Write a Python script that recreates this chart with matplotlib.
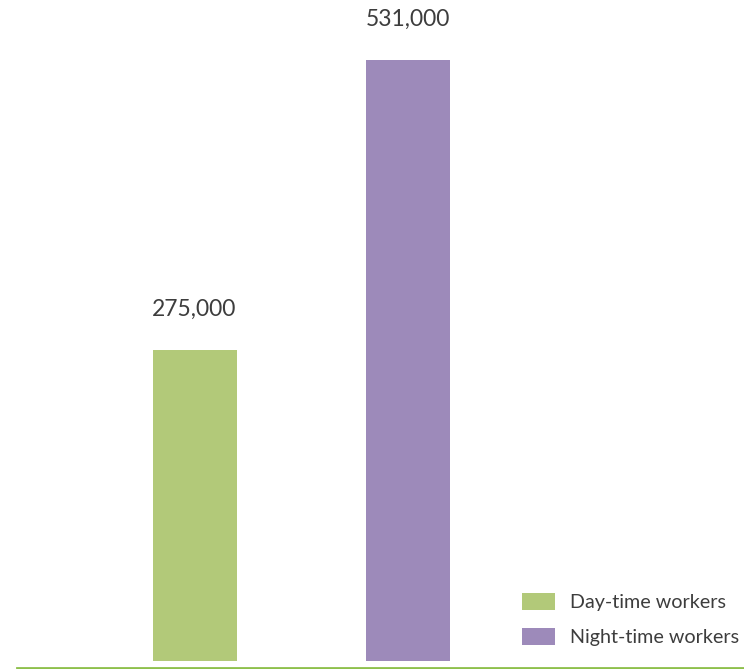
import matplotlib
matplotlib.use("Agg")
import matplotlib.pyplot as plt
from matplotlib.patches import Patch
from matplotlib.lines import Line2D

categories = ["Day-time workers", "Night-time workers"]
values = [275000, 531000]
labels = ["275,000", "531,000"]
colors = ["#b2c979", "#9d8aba"]

plt.rcParams['font.family'] = ['Lato', 'DejaVu Sans']
W, H = 744, 669
fig = plt.figure(figsize=(W/100, H/100), dpi=100)
ax = fig.add_axes([0, 8/H, 1, 1 - 8/H])
x = [0, 1]
bars = ax.bar(x, values, width=84/213.5, color=colors)
ax.set_xlim(-194.5/213.5, (744-194.5)/213.5)
ax.set_ylim(0, 531000 * 661/601)
for xi, v, lab in zip(x, values, labels):
    ax.annotate(lab, (xi, v), xytext=(0, 30), textcoords='offset pixels',
                ha='center', va='bottom', fontsize=16.5, color='#3d3d3d')
ax.axis('off')

handles = [Patch(facecolor=c, edgecolor='none') for c in colors]
leg = fig.legend(handles, categories, loc='lower right', bbox_to_anchor=(757/W, 5/H),
                 frameon=False, fontsize=14.2, handlelength=1.67, handleheight=0.95,
                 labelspacing=0.85, handletextpad=0.76, labelcolor='#3d3d3d')

fig.add_artist(Line2D([17/W, 1], [1.5/H, 1.5/H], color='#8dc04b', lw=2,
                      transform=fig.transFigure))
fig.savefig("out.png", dpi=100)
